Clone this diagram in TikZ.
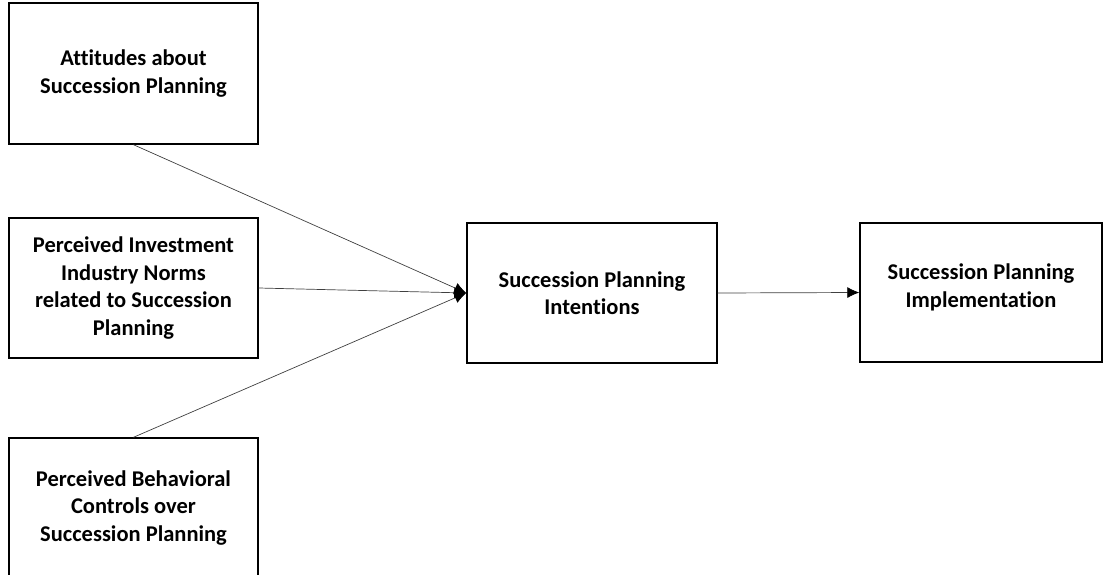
\documentclass[tikz,border=0pt]{standalone}
\usepackage{fontspec}
\setmainfont[Ligatures=NoCommon]{Carlito}
\usetikzlibrary{
		arrows.meta,
		calc,
		positioning
	}
\tikzset{
		>={Latex[length=12pt,width=11pt,black]},
		factor/.style={draw,line width=1.4pt,align=center,inner sep=0pt,
			font=\fontsize{22.5}{27.5}\selectfont\bfseries},
		link/.style={->,line width=0.7pt,draw=black!75}
	}

\begin{document}
\begin{tikzpicture}[x=1pt,y=-1pt]
\useasboundingbox (0,0) rectangle (1104,575);
\node[factor,minimum width=249pt,minimum height=141pt] (att) at (133.5,73.5) {Attitudes about\\Succession Planning};
\node[factor,minimum width=249pt,minimum height=140pt] (norm) at (133.5,288) {Perceived Investment\\Industry Norms\\related to Succession\\Planning};
\node[factor,minimum width=249pt,minimum height=140pt] (ctrl) at (133.5,508) {Perceived Behavioral\\Controls over\\Succession Planning};
\node[factor,minimum width=250pt,minimum height=140pt] (int) at (592,293) {Succession Planning\\Intentions};
\node[factor,minimum width=242pt,minimum height=139pt,text depth=14pt] (impl) at (981,292.5) {Succession Planning\\Implementation};
\draw[link] (att.south) -- (int.west);
\draw[link] (norm.east) -- (int.west);
\draw[link] (ctrl.north) -- (int.west);
\draw[link] (int.east) -- (impl.west);
\end{tikzpicture}
\end{document}
